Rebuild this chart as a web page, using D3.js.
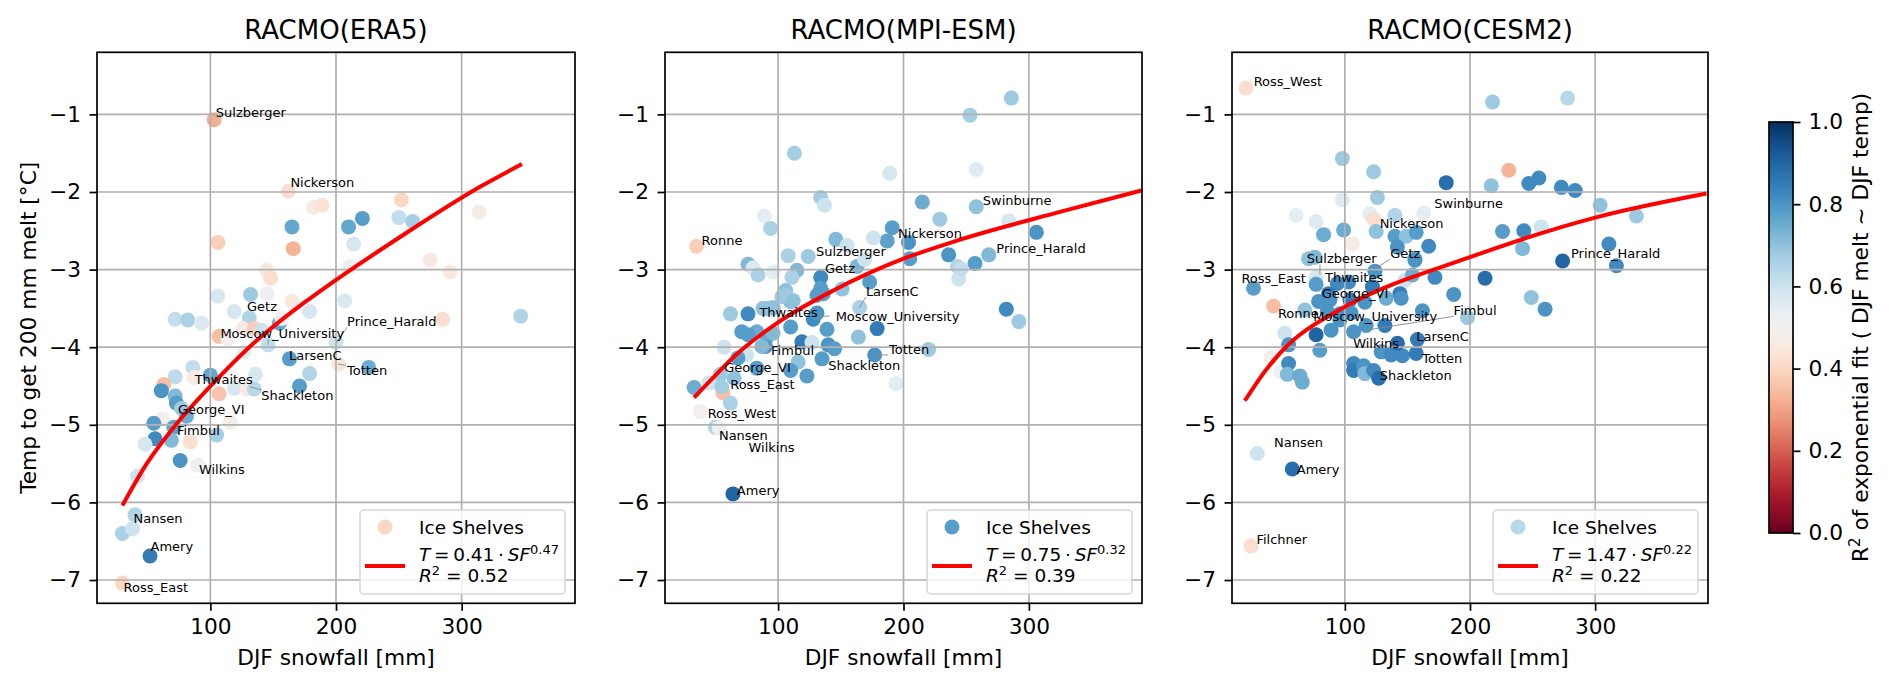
<!DOCTYPE html>
<html><head><meta charset="utf-8">
<script src="https://cdn.jsdelivr.net/npm/d3@7"></script>
<style>
body{margin:0;background:#fff}
svg text{font-family:"DejaVu Sans","Liberation Sans",sans-serif}
</style>
</head><body>
<svg id="chart" width="1892" height="689"></svg>
<script>
// ---------------- DATA ----------------
const titles = ["RACMO(ERA5)", "RACMO(MPI-ESM)", "RACMO(CESM2)"];
const xTicks = [100, 200, 300];
const yTicks = [-7, -6, -5, -4, -3, -2, -1];
const cbTicks = [0, 0.2, 0.4, 0.6, 0.8, 1.0];
const xDomain = [9.8, 390.2];
const yDomain = [-7.3, -0.2];

// [DJF snowfall (mm), temp to get 200 mm melt (°C), R² of fit]
const era5Points = [
[103,-1.07,.32],[162,-1.99,.42],[182,-2.20,.46],[189,-2.17,.43],[165,-2.45,.76],[166,-2.73,.33],
[106,-2.65,.38],[210,-2.45,.76],[221,-2.34,.78],[214,-2.67,.58],[211,-2.96,.53],[252,-2.10,.40],
[250,-2.33,.62],[261,-2.38,.67],[275,-2.88,.46],[291,-3.03,.45],[314,-2.26,.47],[145,-3.01,.45],
[148,-3.11,.42],[106,-3.34,.58],[132,-3.32,.68],[145,-3.31,.52],[165,-3.41,.45],[207,-3.40,.57],
[119,-3.54,.58],[131,-3.62,.65],[72,-3.64,.62],[82,-3.65,.66],[93,-3.69,.57],[179,-3.54,.58],
[126,-3.76,.46],[135,-3.76,.38],[107,-3.86,.35],[114,-3.89,.50],[155,-3.69,.76],[157,-3.63,.52],
[141,-3.78,.60],[146,-3.97,.62],[127,-4.06,.55],[200,-3.94,.60],[285,-3.64,.42],[163,-4.15,.78],
[202,-4.22,.44],[226,-4.26,.75],[179,-4.34,.65],[171,-4.50,.78],[136,-4.35,.58],[100,-4.36,.76],
[86,-4.26,.62],[72,-4.38,.63],[87,-4.39,.47],[63,-4.48,.35],[61,-4.56,.80],[72,-4.63,.72],
[73,-4.72,.78],[107,-4.60,.36],[119,-4.53,.58],[129,-4.54,.46],[135,-4.54,.64],[77,-4.79,.68],
[81,-4.89,.75],[62,-4.92,.50],[55,-4.98,.78],[71,-5.03,.77],[105,-5.13,.67],[116,-4.97,.48],
[84,-5.22,.42],[56,-5.18,.82],[69,-5.20,.72],[48,-5.25,.58],[76,-5.46,.80],[90,-5.52,.52],
[42,-5.66,.60],[40,-6.16,.65],[30,-6.40,.66],[38,-6.34,.60],[52,-6.69,.85],[30,-7.04,.40],
[347,-3.60,.65]
];
const mpiPoints = [
[35,-2.70,.38],[113,-1.50,.67],[134,-2.07,.67],[137,-2.17,.60],[89,-2.31,.55],[94,-2.47,.66],
[189,-1.76,.58],[215,-2.13,.75],[229,-2.35,.68],[253,-1.01,.67],[258,-1.71,.56],[258,-2.19,.70],
[191,-2.46,.78],[187,-2.63,.77],[204,-2.65,.80],[205,-2.86,.78],[176,-2.59,.60],[146,-2.61,.72],
[155,-2.69,.60],[76,-2.93,.72],[80,-2.98,.57],[84,-3.07,.66],[96,-3.03,.55],[108,-2.82,.66],
[124,-2.83,.68],[115,-3.01,.72],[111,-3.10,.66],[134,-3.10,.82],[163,-2.96,.73],[169,-2.87,.60],
[236,-2.81,.80],[243,-2.96,.65],[244,-3.12,.60],[257,-2.92,.78],[173,-3.16,.78],[151,-3.25,.70],
[134,-3.24,.78],[106,-3.27,.70],[286,-0.79,.68],[284,-2.37,.58],[306,-2.52,.80],[268,-2.81,.72],
[282,-3.51,.82],[292,-3.67,.68],[246,-2.99,.62],[220,-4.03,.68],[194,-4.47,.55],[165,-3.49,.66],
[179,-3.76,.85],[164,-3.87,.70],[177,-4.10,.80],[135,-4.15,.78],[140,-3.97,.80],[145,-4.02,.78],
[139,-3.77,.78],[128,-3.64,.82],[119,-3.93,.85],[127,-3.94,.60],[110,-3.74,.78],[116,-4.19,.70],
[123,-4.37,.78],[110,-4.30,.78],[91,-3.87,.75],[96,-3.82,.72],[90,-3.99,.78],[83,-3.80,.75],
[76,-3.84,.78],[71,-3.80,.78],[75,-4.10,.60],[57,-4.00,.60],[68,-4.14,.78],[62,-3.57,.68],
[76,-3.57,.82],[88,-3.50,.70],[96,-3.49,.70],[83,-4.27,.78],[65,-4.40,.70],[54,-4.35,.68],
[45,-4.46,.60],[33,-4.52,.75],[56,-4.59,.35],[55,-4.51,.67],[62,-4.72,.66],[38,-4.83,.50],
[50,-5.03,.65],[53,-5.04,.52],[64,-5.89,.90],[106,-3.33,.68],[131,-3.33,.78],[110,-3.41,.72],
[103,-3.35,.68],[112,-3.40,.70],[131,-3.56,.80],[91,-3.50,.70],[96,-3.50,.70],[87,-3.99,.72],
[136,-3.31,.78]
];
const cesmPoints = [
[21,-0.66,.42],[98,-1.57,.68],[123,-1.74,.68],[181,-1.88,.88],[98,-2.10,.56],[126,-2.07,.68],
[61,-2.30,.55],[77,-2.38,.56],[120,-2.28,.55],[123,-2.35,.42],[140,-2.30,.65],[163,-2.27,.55],
[83,-2.55,.75],[99,-2.49,.75],[125,-2.51,.70],[106,-2.67,.47],[140,-2.57,.78],[149,-2.57,.70],
[157,-2.52,.78],[167,-2.70,.82],[71,-2.86,.70],[76,-2.84,.72],[142,-2.71,.80],[156,-2.86,.75],
[124,-3.02,.80],[77,-3.10,.58],[77,-3.19,.78],[94,-3.18,.82],[103,-3.16,.82],[148,-3.14,.60],
[154,-3.07,.75],[172,-3.10,.82],[187,-3.32,.80],[27,-3.24,.78],[87,-3.31,.85],[144,-3.31,.85],
[122,-3.22,.85],[231,-1.72,.33],[217,-1.92,.70],[247,-1.89,.82],[255,-1.82,.82],[273,-1.94,.82],
[284,-1.98,.82],[304,-2.17,.70],[333,-2.31,.68],[218,-0.84,.68],[278,-0.79,.64],[226,-2.51,.78],
[243,-2.50,.82],[257,-2.45,.60],[242,-2.73,.72],[274,-2.89,.90],[311,-2.67,.82],[317,-2.95,.82],
[212,-3.11,.88],[249,-3.36,.70],[260,-3.51,.80],[198,-3.62,.68],[43,-3.47,.35],[68,-3.52,.70],
[52,-3.82,.60],[77,-3.84,.90],[80,-4.04,.78],[55,-3.97,.80],[41,-4.13,.50],[49,-4.32,.52],
[55,-4.21,.82],[54,-4.35,.72],[64,-4.37,.75],[66,-4.45,.75],[107,-4.21,.82],[107,-4.30,.85],
[115,-4.24,.80],[116,-4.34,.72],[123,-4.30,.82],[127,-4.40,.88],[129,-4.06,.80],[137,-4.10,.82],
[146,-4.11,.82],[157,-4.08,.85],[142,-3.95,.88],[158,-3.90,.85],[162,-3.53,.80],[79,-3.41,.80],
[88,-3.39,.80],[86,-3.54,.80],[104,-3.39,.85],[116,-3.42,.80],[105,-3.56,.80],[96,-3.65,.80],
[89,-3.78,.80],[117,-3.72,.80],[132,-3.72,.85],[107,-3.80,.80],[133,-3.37,.75],[145,-3.37,.80],
[156,-2.88,.80],[96,-3.57,.80],[30,-5.37,.60],[58,-5.57,.88],[25,-6.56,.42]
];

// [name, text SF, text T, (optional) pointer SF, pointer T]
const era5Labels = [
["Sulzberger",104.4,-1.03],["Nickerson",163.7,-1.94],["Getz",129.2,-3.53],
["Moscow_University",108,-3.88,146,-3.97],["Prince_Harald",208.8,-3.73,200.4,-3.94],
["LarsenC",162.6,-4.16],["Totten",208.8,-4.36,201.6,-4.22],["Thwaites",87.5,-4.48],
["Shackleton",140.6,-4.68,131.4,-4.51],["George_VI",74.2,-4.86],["Fimbul",73.4,-5.13],
["Wilkins",90.9,-5.63],["Nansen",38.9,-6.26],["Amery",52.4,-6.63],["Ross_East",30.9,-7.16]
];
const mpiLabels = [
["Ronne",39,-2.68],["Nickerson",195.7,-2.59],["Swinburne",263.3,-2.17],["Sulzberger",130.2,-2.83],
["Prince_Harald",274,-2.79],["Getz",137.4,-3.05],["LarsenC",170,-3.34,164.7,-3.49],
["Thwaites",85.1,-3.61,141,-3.60],["Moscow_University",145.9,-3.66],["Fimbul",94.4,-4.10],
["Totten",188.5,-4.09,177.2,-4.10],["Shackleton",140,-4.30],["George_VI",57,-4.32],
["Ross_East",61.8,-4.54],["Ross_West",43.8,-4.91],["Nansen",52.8,-5.20],["Wilkins",76.4,-5.35],
["Amery",67.1,-5.91]
];
const cesmLabels = [
["Ross_West",27.1,-0.63],["Swinburne",171.5,-2.20],["Nickerson",127.8,-2.47],
["Getz",136.3,-2.85,125.2,-2.98],["Sulzberger",69.6,-2.92,80.1,-3.07],["Ross_East",17.3,-3.17,26.9,-3.24],
["Thwaites",84.1,-3.16],["George_VI",81.5,-3.37],["Prince_Harald",280.7,-2.85],
["Fimbul",186.9,-3.59,117.2,-3.78],["Ronne",46.5,-3.62],["Moscow_University",74.8,-3.66],
["LarsenC",157,-3.92],["Wilkins",106.6,-4.01],["Totten",161.8,-4.20],["Shackleton",127.8,-4.42],
["Nansen",43.4,-5.29],["Amery",61.6,-5.64],["Filchner",29.3,-6.54]
];

// fitted curves: [SF, T]
const era5Fit = [[30,-6.04],[49,-5.51],[73,-4.99],[102,-4.47],[129,-4.03],[176,-3.41],[188,-3.27],[251,-2.58],[315,-1.93],[348,-1.64]];
const mpiFit  = [[33,-4.65],[49,-4.38],[65,-4.12],[100,-3.68],[144,-3.27],[200,-2.86],[242,-2.63],[324,-2.26],[390,-1.98]];
const cesmFit = [[20,-4.69],[38,-4.27],[56,-3.95],[64,-3.84],[100,-3.48],[200,-2.84],[300,-2.33],[389,-2.02]];

const fitCoef = ["0.41", "0.75", "1.47"];
const fitExp  = ["0.47", "0.32", "0.22"];
const fitR2   = ["0.52", "0.39", "0.22"];
const legendMarkerR2 = [0.40, 0.78, 0.64];

// ---------------- DRAW ----------------
const svg = d3.select("#chart");
const defs = svg.append("defs");
const cmap = d3.scaleSequential(d3.interpolateRdBu).domain([0, 1]);
const yTop = 52.3, yBot = 603.3;
const y = d3.scaleLinear().domain(yDomain).range([yBot, yTop]);
const TICKF = "21.7px";
const fmtNum = d => d < 0 ? "\u2212" + Math.abs(d) : String(d);

const panels = [
  {x0: 97,   x1: 575,  pts: era5Points, labels: era5Labels, fit: era5Fit},
  {x0: 665,  x1: 1142, pts: mpiPoints,  labels: mpiLabels,  fit: mpiFit},
  {x0: 1232, x1: 1708, pts: cesmPoints, labels: cesmLabels, fit: cesmFit}
];

panels.forEach((p, i) => {
  const x = d3.scaleLinear().domain(xDomain).range([p.x0, p.x1]);
  const g = svg.append("g");
  const cid = "clip" + i;
  defs.append("clipPath").attr("id", cid).append("rect")
    .attr("x", p.x0).attr("y", yTop).attr("width", p.x1 - p.x0).attr("height", yBot - yTop);

  // scatter
  g.append("g").attr("clip-path", `url(#${cid})`)
    .selectAll("circle").data(p.pts).join("circle")
    .attr("cx", d => x(d[0])).attr("cy", d => y(d[1])).attr("r", 7.5)
    .attr("fill", d => cmap(d[2]));

  // grid (above the scatter like matplotlib default)
  const gg = g.append("g").attr("stroke", "#b0b0b0").attr("stroke-width", 1.7);
  gg.selectAll("line.gx").data(xTicks).join("line").attr("class", "gx")
    .attr("x1", d => x(d)).attr("x2", d => x(d)).attr("y1", yTop).attr("y2", yBot);
  gg.selectAll("line.gy").data(yTicks).join("line").attr("class", "gy")
    .attr("x1", p.x0).attr("x2", p.x1).attr("y1", d => y(d)).attr("y2", d => y(d));

  // fit curve
  g.append("path").datum(p.fit).attr("clip-path", `url(#${cid})`)
    .attr("d", d3.line().x(d => x(d[0])).y(d => y(d[1])).curve(d3.curveMonotoneX))
    .attr("fill", "none").attr("stroke", "#ff0000").attr("stroke-width", 4);

  // annotations
  const lg = g.append("g");
  p.labels.forEach(l => {
    const t = lg.append("text").attr("x", x(l[1])).attr("y", y(l[2]))
      .style("font-size", "13px").attr("fill", "#000").text(l[0]);
    if (l.length > 3) {
      const bb = t.node().getBBox();
      const px = x(l[3]), py = y(l[4]);
      const cx = Math.max(bb.x, Math.min(px, bb.x + bb.width));
      const cy = Math.max(bb.y + 2, Math.min(py, bb.y + bb.height - 2));
      lg.insert("line", "text").attr("x1", cx).attr("y1", cy).attr("x2", px).attr("y2", py)
        .attr("stroke", "#888").attr("stroke-width", 0.9);
    }
  });

  // spines
  g.append("rect").attr("x", p.x0).attr("y", yTop).attr("width", p.x1 - p.x0).attr("height", yBot - yTop)
    .attr("fill", "none").attr("stroke", "#000").attr("stroke-width", 1.7);

  // axes
  const ax = g.append("g").attr("transform", `translate(0,${yBot})`)
    .call(d3.axisBottom(x).tickValues(xTicks).tickSize(7.5).tickSizeOuter(0).tickPadding(8).tickFormat(fmtNum));
  ax.select(".domain").remove();
  ax.selectAll(".tick line").attr("stroke-width", 1.7);
  ax.selectAll("text").style("font-size", TICKF).attr("fill", "#000");

  const ay = g.append("g").attr("transform", `translate(${p.x0},0)`)
    .call(d3.axisLeft(y).tickValues(yTicks).tickSize(7.5).tickSizeOuter(0).tickPadding(8.5).tickFormat(fmtNum));
  ay.select(".domain").remove();
  ay.selectAll(".tick line").attr("stroke-width", 1.7);
  ay.selectAll("text").style("font-size", TICKF).attr("fill", "#000");

  // title
  g.append("text").attr("x", (p.x0 + p.x1) / 2).attr("y", 39).attr("text-anchor", "middle")
    .style("font-size", "26px").text(titles[i]);
  // x label
  g.append("text").attr("x", (p.x0 + p.x1) / 2).attr("y", 665).attr("text-anchor", "middle")
    .style("font-size", TICKF).text("DJF snowfall [mm]");

  // legend
  const lw = 205, lh = 84, lx = p.x1 - 10 - lw, ly = 510;
  const L = g.append("g");
  L.append("rect").attr("x", lx).attr("y", ly).attr("width", lw).attr("height", lh).attr("rx", 4)
    .attr("fill", "#fff").attr("fill-opacity", 0.8).attr("stroke", "#d6d6d6").attr("stroke-width", 1.5);
  L.append("circle").attr("cx", lx + 25).attr("cy", ly + 17).attr("r", 7.5).attr("fill", cmap(legendMarkerR2[i]));
  L.append("text").attr("x", lx + 59).attr("y", ly + 23.5).style("font-size", "18.5px").text("Ice Shelves");
  L.append("line").attr("x1", lx + 5).attr("x2", lx + 45).attr("y1", ly + 56).attr("y2", ly + 56)
    .attr("stroke", "#ff0000").attr("stroke-width", 4);
  const t1 = L.append("text").attr("x", lx + 59).attr("y", ly + 51).style("font-size", "18.5px");
  t1.append("tspan").attr("font-style", "italic").text("T");
  t1.append("tspan").text("\u2009=\u2009" + fitCoef[i] + "\u2009\u00b7\u2009");
  t1.append("tspan").attr("font-style", "italic").text("SF");
  t1.append("tspan").attr("dy", -7.5).style("font-size", "13px").text(fitExp[i]);
  const t2 = L.append("text").attr("x", lx + 59).attr("y", ly + 72).style("font-size", "18.5px");
  t2.append("tspan").attr("font-style", "italic").text("R");
  t2.append("tspan").attr("dy", -7.5).style("font-size", "13px").text("2");
  t2.append("tspan").attr("dy", 7.5).text(" = " + fitR2[i]);
});

// y label
svg.append("text").attr("transform", `translate(36,${(yTop + yBot) / 2}) rotate(-90)`)
  .attr("text-anchor", "middle").style("font-size", TICKF).text("Temp to get 200 mm melt [°C]");

// colorbar
const cb = {x: 1769, y: 122, w: 24, h: 411};
const grad = defs.append("linearGradient").attr("id", "cbg").attr("x1", 0).attr("y1", 1).attr("x2", 0).attr("y2", 0);
d3.range(0, 1.0001, 0.025).forEach(t => grad.append("stop").attr("offset", t).attr("stop-color", cmap(t)));
svg.append("rect").attr("x", cb.x).attr("y", cb.y).attr("width", cb.w).attr("height", cb.h).attr("fill", "url(#cbg)");
svg.append("rect").attr("x", cb.x).attr("y", cb.y).attr("width", cb.w).attr("height", cb.h)
  .attr("fill", "none").attr("stroke", "#000").attr("stroke-width", 1.7);
const cy = d3.scaleLinear().domain([0, 1]).range([cb.y + cb.h, cb.y]);
const cax = svg.append("g").attr("transform", `translate(${cb.x + cb.w},0)`)
  .call(d3.axisRight(cy).tickValues(cbTicks).tickSize(7.5).tickSizeOuter(0).tickPadding(8).tickFormat(d3.format(".1f")));
cax.select(".domain").remove();
cax.selectAll(".tick line").attr("stroke-width", 1.7);
cax.selectAll("text").style("font-size", TICKF).attr("fill", "#000");
const cl = svg.append("text").attr("transform", `translate(1868,${cb.y + cb.h / 2}) rotate(-90)`)
  .attr("text-anchor", "middle").style("font-size", TICKF);
cl.append("tspan").text("R");
cl.append("tspan").attr("dy", -8).style("font-size", "15px").text("2");
cl.append("tspan").attr("dy", 8).text(" of exponential fit ( DJF melt ~ DJF temp)");
</script>
</body></html>
